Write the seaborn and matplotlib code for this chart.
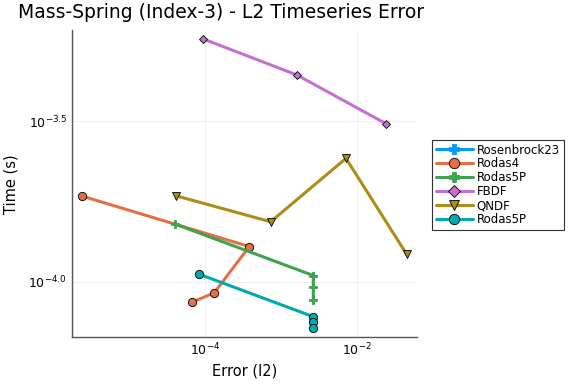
import numpy as np
import pandas as pd
import matplotlib
matplotlib.use("Agg")
import matplotlib.pyplot as plt
import seaborn as sns

# dados (erro l2, tempo em s)
nomes = ["Rosenbrock23", "Rodas4", "Rodas5P", "FBDF", "QNDF", "Rodas5P"]
cores = ["#009AFA", "#E26F46", "#3DA44D", "#C271D2", "#AC8D18", "#00A9AD"]
marcadores = ["P", "o", "P", "D", "v", "o"]
tamanhos = [6, 6, 6, 4.5, 6, 6]

err_rosenbrock23 = []
t_rosenbrock23 = []
err_rodas4 = [10**-5.62, 10**-3.417, 10**-3.88, 10**-4.175]
t_rodas4 = [10**-3.733, 10**-3.890, 10**-4.034, 10**-4.063]
err_rodas5p = [10**-4.395, 10**-2.575, 10**-2.575, 10**-2.575]
t_rodas5p = [10**-3.820, 10**-3.980, 10**-4.015, 10**-4.055]
err_fbdf = [10**-4.022, 10**-2.79, 10**-1.62]
t_fbdf = [10**-3.245, 10**-3.357, 10**-3.508]
err_qndf = [10**-4.386, 10**-3.136, 10**-2.145, 10**-1.346]
t_qndf = [10**-3.732, 10**-3.813, 10**-3.616, 10**-3.914]
err_rodas5p_b = [10**-4.075, 10**-2.575, 10**-2.575, 10**-2.575]
t_rodas5p_b = [10**-3.976, 10**-4.108, 10**-4.125, 10**-4.142]

series = [(err_rosenbrock23, t_rosenbrock23), (err_rodas4, t_rodas4),
          (err_rodas5p, t_rodas5p), (err_fbdf, t_fbdf),
          (err_qndf, t_qndf), (err_rodas5p_b, t_rodas5p_b)]

sns.set_style("white")
plt.rcParams["text.color"] = "black"
plt.rcParams["xtick.color"] = "black"
plt.rcParams["ytick.color"] = "black"

fig = plt.figure(figsize=(5.76, 3.84), dpi=100)
ax = fig.add_axes([0.125, 0.1224, 0.599, 0.7996])

handles = []
for nome, cor, mk, ms, (ex, ty) in zip(nomes, cores, marcadores, tamanhos, series):
    borda = "black" if mk != "P" else cor
    if len(ex) > 0:
        df = pd.DataFrame({"erro": ex, "tempo": ty})
        sns.lineplot(data=df, x="erro", y="tempo", sort=False, estimator=None,
                     color=cor, linewidth=2.2, marker=mk, markersize=ms,
                     markeredgecolor=borda, markeredgewidth=0.6, ax=ax)
    h, = ax.plot([], [], color=cor, linewidth=2.2, marker=mk, markersize=ms + 1.5,
                 markeredgecolor=borda, markeredgewidth=0.6)
    handles.append(h)

ax.set_xscale("log")
ax.set_yscale("log")
ax.set_xlim(10**-5.75, 10**-1.21)
ax.set_ylim(10**-4.171, 10**-3.217)
ax.set_xticks([1e-4, 1e-2])
ax.set_xticklabels(["$10^{-4}$", "$10^{-2}$"])
ax.set_yticks([10**-4.0, 10**-3.5])
ax.set_yticklabels(["$10^{-4.0}$", "$10^{-3.5}$"])
ax.minorticks_off()
ax.tick_params(axis="both", direction="in", length=4, labelsize=9, width=0.8)
ax.grid(True, color="#ececec", linewidth=0.6)
for lado in ["top", "right"]:
    ax.spines[lado].set_visible(False)
for lado in ["left", "bottom"]:
    ax.spines[lado].set_color("#555555")
    ax.spines[lado].set_linewidth(1.0)
ax.set_xlabel("")
ax.set_ylabel("")

fig.text(18 / 576, 1 - 12 / 384, "Mass-Spring (Index-3) - L2 Timeseries Error",
         fontsize=13.5, ha="left", va="center")
fig.text(11 / 576, 1 - 184 / 384, "Time (s)", rotation=90, fontsize=10.5,
         ha="center", va="center")
fig.text(245 / 576, 1 - 371 / 384, "Error (l2)", fontsize=10.5,
         ha="center", va="center")

leg = fig.legend(handles, nomes, loc="upper left",
                 bbox_to_anchor=(432 / 576, 1 - 140 / 384), fontsize=8.5,
                 frameon=True, fancybox=False, framealpha=1, borderpad=0.3,
                 labelspacing=0.08, handlelength=3.2, handletextpad=0.3,
                 borderaxespad=0)
leg.get_frame().set_edgecolor("#333333")
leg.get_frame().set_linewidth(0.8)

fig.savefig("out.png", dpi=100)
